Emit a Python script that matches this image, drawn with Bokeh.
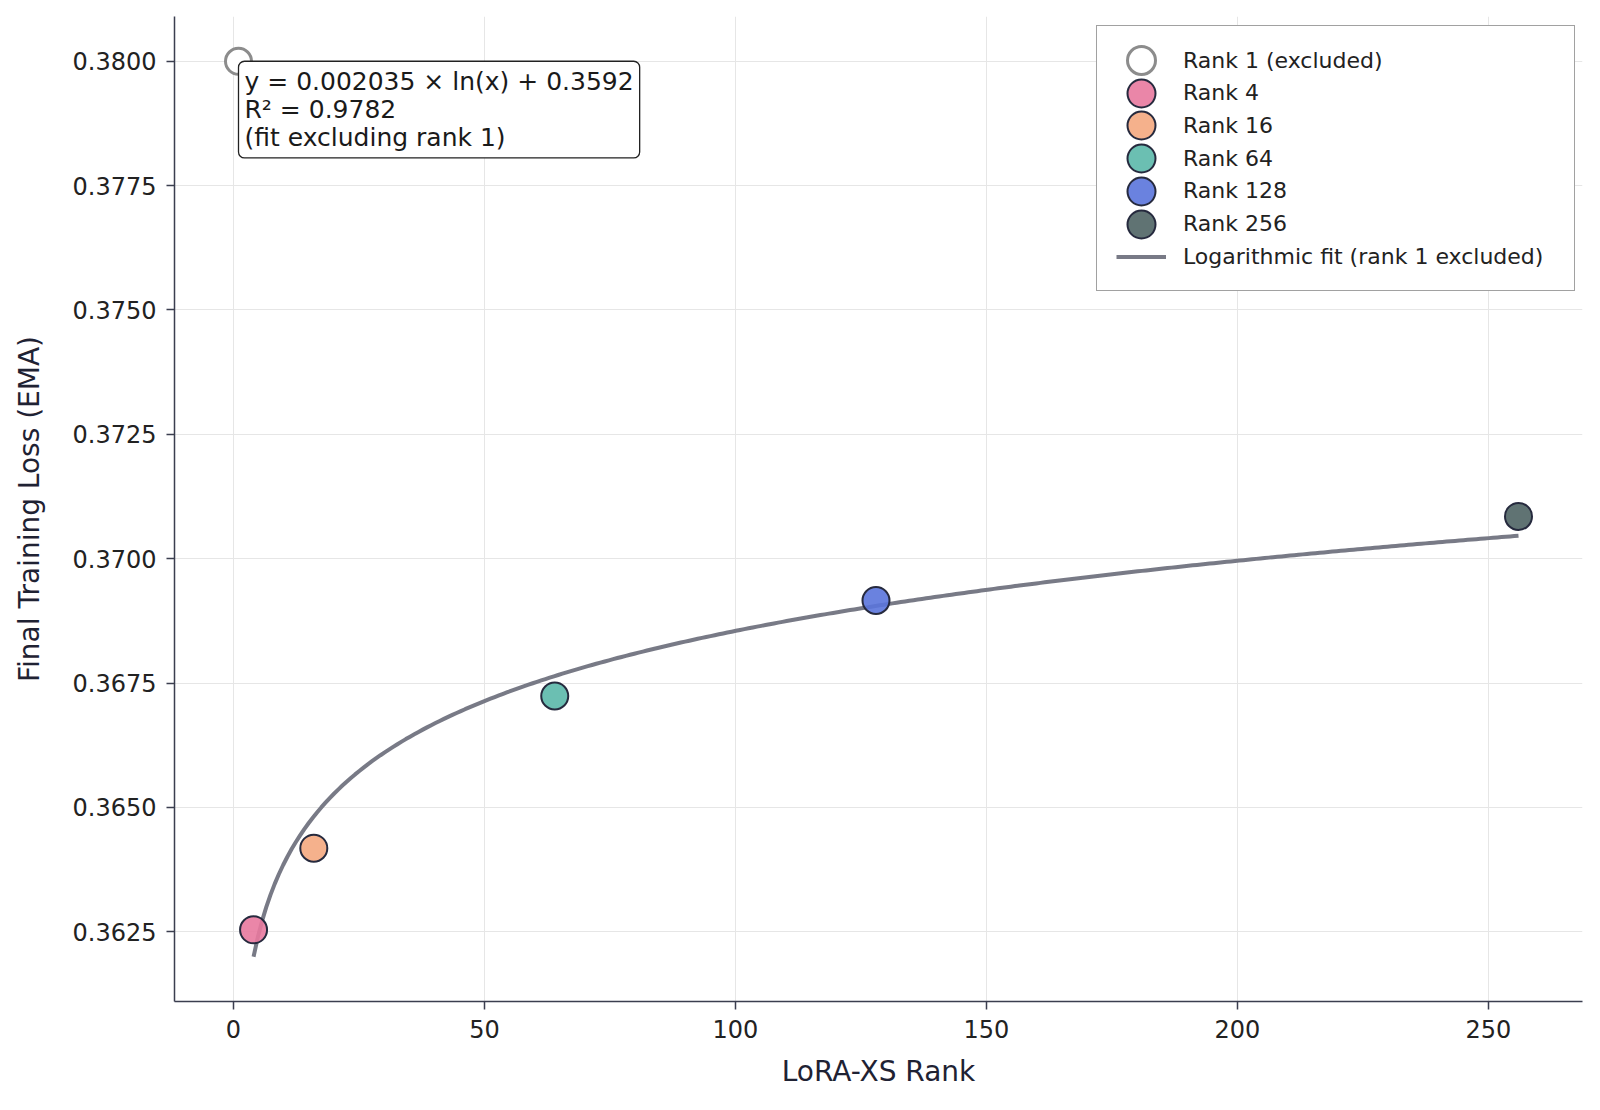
import numpy as np
from bokeh.plotting import figure
from bokeh.models import (Range1d, FixedTicker, NumeralTickFormatter, Legend,
                          LegendItem, Label, ColumnDataSource)
from bokeh.embed import file_html
from bokeh.resources import INLINE

# data
ranks = [1, 4, 16, 64, 128, 256]
loss = [0.3800, 0.36254, 0.36418, 0.36724, 0.36916, 0.37085]
point_labels = ["Rank 1 (excluded)", "Rank 4", "Rank 16", "Rank 64", "Rank 128", "Rank 256"]
point_colors = ["#e8799f", "#f4a880", "#5bb8aa", "#5a74dc", "#4f6464"]
x_ticks = [0, 50, 100, 150, 200, 250]
y_ticks = [0.3625, 0.3650, 0.3675, 0.3700, 0.3725, 0.3750, 0.3775, 0.3800]
fit_label = "Logarithmic fit (rank 1 excluded)"
fit_text = "y = 0.002035 × ln(x) + 0.3592\nR² = 0.9782\n(fit excluding rank 1)"

FONT = "DejaVu Sans"
DARK = "#3b3e4f"

# frame size in px
W, H = 1584, 1094
BL, BR, BT, BB = 174, 2, 16, 93
FH = H - BT - BB

# log fit on ranks 4..256 (rank 1 left out)
slope, intercept = np.polyfit(np.log(ranks[1:]), loss[1:], 1)
fit_x = np.linspace(ranks[1], ranks[-1], 300)
fit_y = slope * np.log(fit_x) + intercept

# matplotlib style 5% margins
xmin, xmax = min(ranks), max(ranks)
ymin, ymax = min(min(loss), fit_y.min()), max(max(loss), fit_y.max())
xpad, ypad = 0.05 * (xmax - xmin), 0.05 * (ymax - ymin)

p = figure(width=W, height=H, output_backend="svg", toolbar_location=None,
           x_range=Range1d(xmin - xpad, xmax + xpad),
           y_range=Range1d(ymin - ypad, ymax + ypad),
           min_border_left=BL, min_border_right=BR,
           min_border_top=BT, min_border_bottom=BB)
p.outline_line_color = None
p.background_fill_color = "white"
p.xgrid.grid_line_color = "#e6e6e6"
p.ygrid.grid_line_color = "#e6e6e6"

p.xaxis.ticker = FixedTicker(ticks=x_ticks)
p.yaxis.ticker = FixedTicker(ticks=y_ticks)
p.yaxis.formatter = NumeralTickFormatter(format="0.0000")
p.xaxis.axis_label = "LoRA-XS Rank"
p.yaxis.axis_label = "Final Training Loss (EMA)"
for ax in (p.xaxis, p.yaxis):
    ax.axis_line_color = DARK
    ax.axis_line_width = 1.5
    ax.major_tick_line_color = DARK
    ax.major_tick_line_width = 1.5
    ax.major_tick_out = 8
    ax.major_tick_in = 0
    ax.minor_tick_line_color = None
    ax.major_label_text_font = FONT
    ax.major_label_text_font_size = "24px"
    ax.major_label_text_color = "#222222"
    ax.major_label_standoff = 10
    ax.axis_label_text_font = FONT
    ax.axis_label_text_font_size = "28px"
    ax.axis_label_text_font_style = "normal"
    ax.axis_label_text_color = "#1f2233"
p.yaxis.axis_label_standoff = 24
p.xaxis.axis_label_standoff = 14

# fit line under the points
fit_r = p.line(fit_x, fit_y, line_color="#71737f", line_width=4, line_alpha=0.95)

# excluded rank 1
r1 = p.scatter([ranks[0]], [loss[0]], marker="circle", size=26,
               fill_color="white", line_color="#8c8c8c", line_width=3)

src = ColumnDataSource(dict(x=ranks[1:], y=loss[1:], color=point_colors,
                            label=point_labels[1:]))
pts = p.scatter("x", "y", source=src, marker="circle", size=27,
                fill_color="color", fill_alpha=0.9,
                line_color="#262a3e", line_width=2)

note = Label(x=ranks[0], y=loss[0], text=fit_text, anchor="top_left",
             text_font=FONT, text_font_size="25px", text_color="#1a1a1a",
             text_line_height=0.96, padding=6,
             border_line_color="#222222", border_line_width=1.3,
             background_fill_color="white", background_fill_alpha=1,
             border_radius=6)
p.add_layout(note)

# legend: one framed box, then one row per entry (rows closer than the
# marker box bokeh needs for a full-size legend circle)
LEG_X, LEG_TOP, LEG_W, LEG_H = 922, 11, 477, 264
ROW0, PITCH = 33, 32.7

ghost = p.line(x=[], y=[], line_alpha=0)
box = Legend(items=[LegendItem(label=" ", renderers=[ghost])],
             location=(LEG_X, FH - LEG_TOP - LEG_H), padding=0, margin=0,
             glyph_width=1, glyph_height=LEG_H, label_standoff=0,
             label_width=LEG_W - 1, label_height=20,
             border_line_color="#444444", border_line_width=1.3,
             background_fill_color="white", background_fill_alpha=1)
p.add_layout(box)

row_items = [LegendItem(label=point_labels[0], renderers=[r1])]
for i, lab in enumerate(point_labels[1:]):
    row_items.append(LegendItem(label=lab, renderers=[pts], index=i))

for i, item in enumerate(row_items):
    cy = FH - (LEG_TOP + ROW0 + PITCH * i)
    p.add_layout(Legend(items=[item], location=(LEG_X + 10, cy - 35),
                        padding=0, margin=0, glyph_width=70, glyph_height=70,
                        label_standoff=7, label_height=28,
                        label_text_font=FONT, label_text_font_size="22px",
                        label_text_color="#222222",
                        border_line_color=None, background_fill_alpha=0))

cy = FH - (LEG_TOP + ROW0 + PITCH * len(row_items))
p.add_layout(Legend(items=[LegendItem(label=fit_label, renderers=[fit_r])],
                    location=(LEG_X + 20, cy - 16.5),
                    padding=0, margin=0, glyph_width=50, glyph_height=33,
                    label_standoff=17, label_height=28,
                    label_text_font=FONT, label_text_font_size="22px",
                    label_text_color="#222222",
                    border_line_color=None, background_fill_alpha=0))

open("out.html", "w").write(file_html(p, INLINE))
